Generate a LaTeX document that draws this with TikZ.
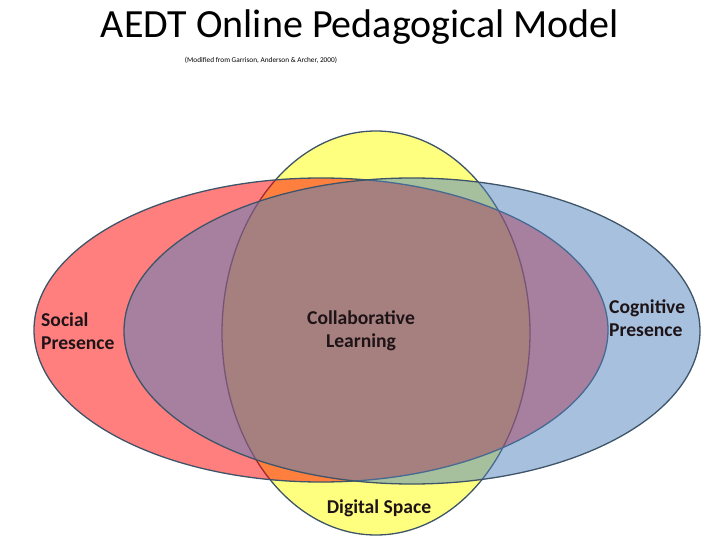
\documentclass[tikz,border=0pt]{standalone}
\usepackage{fontspec}
\setmainfont{Carlito}
\definecolor{socialred}{HTML}{FF0000}
\definecolor{cogblue}{HTML}{4F81BD}
\definecolor{spaceyellow}{HTML}{FFFF00}
\definecolor{rimline}{HTML}{3E5468}
\definecolor{labeltext}{HTML}{1E1418}
\begin{document}
\begin{tikzpicture}[x=1pt, y=-1pt]
      \tikzstyle{every node}=[inner sep=0pt, align=left, text=labeltext, font=\bfseries\fontsize{19.6}{23}\selectfont]
      \tikzstyle{zone}=[draw=rimline, line width=1.3pt, fill opacity=0.5]
      \useasboundingbox (0,0) rectangle (720,540);

      % the three presences, back to front
      \path[zone, fill=spaceyellow] (376,333) ellipse [x radius=154pt, y radius=202pt];
      \path[zone, fill=socialred] (321,330) ellipse [x radius=287pt, y radius=152pt];
      \path[zone, fill=cogblue] (412,331) ellipse [x radius=288pt, y radius=153pt];

      \path (360,38) node[anchor=base, text=black, font=\fontsize{40}{46}\selectfont] (title) {AEDT Online Pedagogical Model};
      \path (261,63) node[anchor=base, text=black, font=\fontsize{7.3}{8}\selectfont] (source) {(Modified from Garrison, Anderson \& Archer, 2000)};

      \path (41,331) node[anchor=west] (social) {Social\\Presence};
      \path (609,318) node[anchor=west] (cognitive) {Cognitive\\Presence};
      \path (361,331) node[align=center] (collab) {Collaborative\\Learning};
      \path (379,508) node (digital) {Digital Space};
    \end{tikzpicture}
\end{document}
